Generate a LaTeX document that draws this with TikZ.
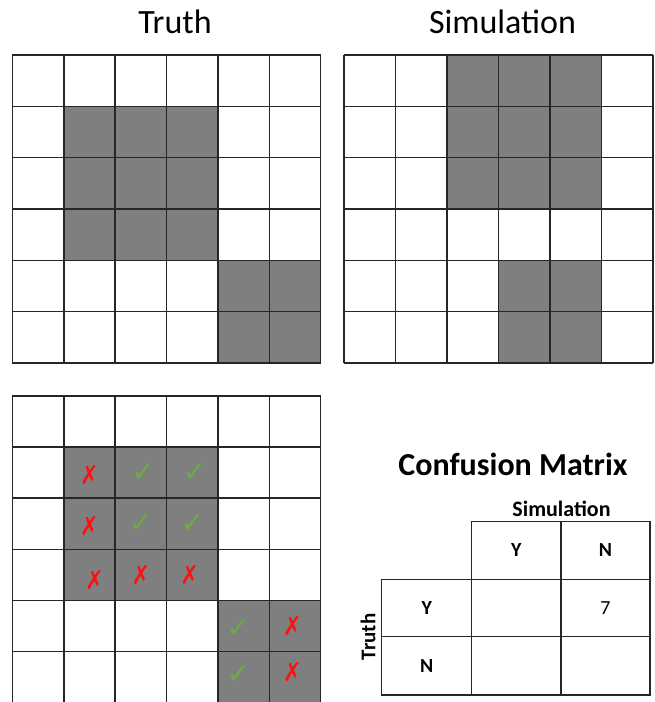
\documentclass[tikz,border=0pt]{standalone}
\usepackage{fontspec}
\setmainfont{Carlito}
\newfontfamily\symfont{DejaVu Sans}
\definecolor{cellgray}{HTML}{7F7F7F}
\definecolor{linegray}{HTML}{262626}
\definecolor{okgreen}{HTML}{6CAB45}
\definecolor{badred}{HTML}{FF1010}
\tikzset{
  gridline/.style={draw=linegray, line width=1.6pt},
  tabline/.style={draw=linegray, line width=1.2pt},
  bigtitle/.style={font=\fontsize{34}{40}\selectfont, anchor=base, inner sep=0pt},
  cmtitle/.style={font=\fontsize{32}{38}\selectfont\bfseries, anchor=base, inner sep=0pt},
  cmlabel/.style={font=\fontsize{20}{24}\selectfont\bfseries, inner sep=0pt},
  cmval/.style={font=\fontsize{20}{24}\selectfont, inner sep=0pt},
  okmark/.style={text=okgreen, font=\symfont\fontsize{28}{31}\selectfont, inner sep=0pt},
  badmark/.style={text=badred, font=\symfont\fontsize{26}{29}\selectfont\bfseries, inner sep=0pt, xscale=0.85},
}
\begin{document}
\begin{tikzpicture}[x=1pt,y=-1pt]
\useasboundingbox (0,0) rectangle (654,702);

% titles
\node[bigtitle] (ttruth) at (175,33) {Truth};
\node[bigtitle] (tsim) at (502.5,33) {Simulation};

% Truth grid
\begin{scope}[shift={(12.4,55)}, x=51.38pt, y=-51.33pt]
  \foreach \c/\r in {1/1,2/1,3/1,1/2,2/2,3/2,1/3,2/3,3/3,4/4,5/4,4/5,5/5}
    \fill[cellgray] (\c,\r) rectangle ++(1,1);
  \foreach \i in {0,...,6} {
    \draw[gridline] (\i,0) -- (\i,6);
    \draw[gridline] (0,\i) -- (6,\i);
  }
\end{scope}

% Simulation grid
\begin{scope}[shift={(344,55)}, x=51.5pt, y=-51.33pt]
  \foreach \c/\r in {2/0,3/0,4/0,2/1,3/1,4/1,2/2,3/2,4/2,3/4,4/4,3/5,4/5}
    \fill[cellgray] (\c,\r) rectangle ++(1,1);
  \foreach \i in {0,...,6} {
    \draw[gridline] (\i,0) -- (\i,6);
    \draw[gridline] (0,\i) -- (6,\i);
  }
\end{scope}

% Comparison grid
\begin{scope}[shift={(12.4,396)}, x=51.38pt, y=-51.1pt]
  \foreach \c/\r in {1/1,2/1,3/1,1/2,2/2,3/2,1/3,2/3,3/3,4/4,5/4,4/5,5/5}
    \fill[cellgray] (\c,\r) rectangle ++(1,1);
  \foreach \i in {0,...,6} {
    \draw[gridline] (\i,0) -- (\i,6);
    \draw[gridline] (0,\i) -- (6,\i);
  }
  \node[badmark] (x11) at (1.5,1.55) {✗};
  \node[okmark]  (k21) at (2.55,1.5) {✓};
  \node[okmark]  (k31) at (3.55,1.5) {✓};
  \node[badmark] (x12) at (1.5,2.55) {✗};
  \node[okmark]  (k22) at (2.5,2.5) {✓};
  \node[okmark]  (k32) at (3.5,2.5) {✓};
  \node[badmark] (x13) at (1.6,3.6) {✗};
  \node[badmark] (x23) at (2.5,3.5) {✗};
  \node[badmark] (x33) at (3.45,3.5) {✗};
  \node[okmark]  (k44) at (4.4,4.55) {✓};
  \node[badmark] (x54) at (5.45,4.5) {✗};
  \node[okmark]  (k45) at (4.4,5.45) {✓};
  \node[badmark] (x55) at (5.45,5.4) {✗};
\end{scope}

% Confusion matrix
\node[cmtitle] (cmt) at (513,475) {Confusion Matrix};
\node[font=\fontsize{22}{26}\selectfont\bfseries, anchor=base, inner sep=0pt] (cmsim) at (561.5,516) {Simulation};
\draw[tabline] (471.7,521.7) rectangle (650,579.3);
\draw[tabline] (381.7,579.3) rectangle (650,695);
\draw[tabline] (381.7,636.7) -- (650,636.7);
\draw[tabline] (471.7,579.3) -- (471.7,695);
\draw[tabline] (561,521.7) -- (561,695);
\node[cmlabel] (hy) at (516.3,550.5) {Y};
\node[cmlabel] (hn) at (605.5,550.5) {N};
\node[cmlabel] (ry) at (426.7,608) {Y};
\node[cmval]   (v7) at (605.5,608) {7};
\node[cmlabel] (rn) at (426.7,666) {N};
\node[font=\fontsize{21}{25}\selectfont\bfseries, rotate=90, inner sep=0pt] (cmtruth) at (368,637) {Truth};
\end{tikzpicture}
\end{document}
